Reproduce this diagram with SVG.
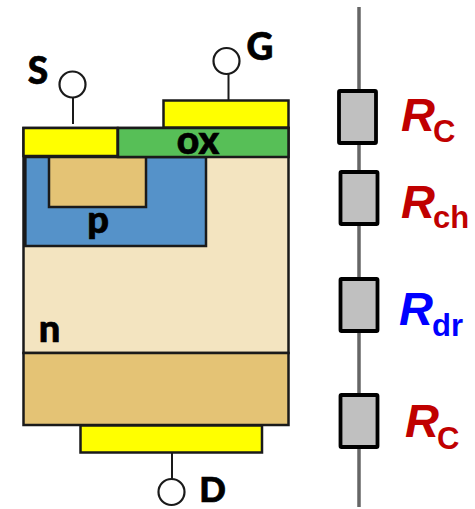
<svg xmlns="http://www.w3.org/2000/svg" width="475" height="509" viewBox="0 0 475 509">
<style>
.s{stroke:#1a1a1a;stroke-width:2.500}
.lbl{font-family:"Lato","Open Sans",sans-serif;font-weight:900;fill:#000;stroke:#000;stroke-width:0.700}
.res{fill:#c0c0c0;stroke:#000;stroke-width:3.800}
.r{font-family:"Liberation Sans",Arial,sans-serif;font-weight:700;font-style:italic;font-size:47px}
.sub{font-family:"Liberation Sans",Arial,sans-serif;font-weight:700;font-size:31px}
.red{fill:#c00000}
.blue{fill:#0000ff}
.term{fill:#fff;stroke:#1a1a1a;stroke-width:2.200}
</style>
<g id="device">
<rect id="n-region" class="s" x="23.500" y="128" width="265" height="225" fill="#f3e4c0"/>
<rect id="p-region" class="s" x="25" y="157" width="181" height="89" fill="#5592c9"/>
<path d="M25 157V246" stroke="#1a1a1a" stroke-width="3" fill="none"/>
<rect id="n-plus-top" class="s" x="49" y="157" width="97" height="50" fill="#e4c375"/>
<rect id="n-plus-bottom" class="s" x="23.500" y="353" width="265" height="72" fill="#e4c375"/>
<rect id="oxide" class="s" x="118" y="128" width="170.500" height="29" fill="#57bf57"/>
<rect id="source-contact" class="s" x="23.500" y="128" width="94" height="28" fill="#ffff00"/>
<rect id="gate-contact" class="s" x="163.500" y="100.500" width="125" height="27" fill="#ffff00"/>
<rect id="drain-contact" class="s" x="80.500" y="425.500" width="181.500" height="27" fill="#ffff00"/>
<text class="lbl" x="198" y="154" font-size="39" text-anchor="middle">ox</text>
<text class="lbl" x="98" y="233" font-size="38" text-anchor="middle">p</text>
<text class="lbl" x="49.500" y="342" font-size="38" text-anchor="middle">n</text>
</g>
<g id="connectors">
<path d="M73 97V124" stroke="#1a1a1a" stroke-width="2" fill="none"/>
<path d="M228.500 74V100" stroke="#1a1a1a" stroke-width="2" fill="none"/>
<path d="M172 453V479" stroke="#1a1a1a" stroke-width="2" fill="none"/>
<path d="M359 7V507" stroke="#666" stroke-width="3.500" fill="none"/>
</g>
<g id="terminal-S"><circle class="term" cx="72.500" cy="84.500" r="13"/><text class="lbl" x="38" y="84" font-size="37" text-anchor="middle">S</text></g>
<g id="terminal-G"><circle class="term" cx="226.500" cy="61" r="13"/><text class="lbl" x="260" y="60" font-size="37" text-anchor="middle">G</text></g>
<g id="terminal-D"><circle class="term" cx="171.500" cy="492" r="13"/><text class="lbl" x="212.500" y="502" font-size="35" text-anchor="middle">D</text></g>
<g id="R-C-top"><rect class="res" x="339" y="91" width="37" height="52" rx="1"/><text x="401" y="131" class="r red">R</text><text x="433" y="142" class="sub red">C</text></g>
<g id="R-ch"><rect class="res" x="340.500" y="172" width="37" height="52" rx="1"/><text x="401" y="218" class="r red">R</text><text x="433" y="228" class="sub red">ch</text></g>
<g id="R-dr"><rect class="res" x="340.500" y="279" width="37" height="52" rx="1"/><text x="399" y="325" class="r blue">R</text><text x="432" y="336" class="sub blue">dr</text></g>
<g id="R-C-bottom"><rect class="res" x="340.500" y="395" width="37" height="52" rx="1"/><text x="405" y="437" class="r red">R</text><text x="437" y="449" class="sub red">C</text></g>
</svg>
